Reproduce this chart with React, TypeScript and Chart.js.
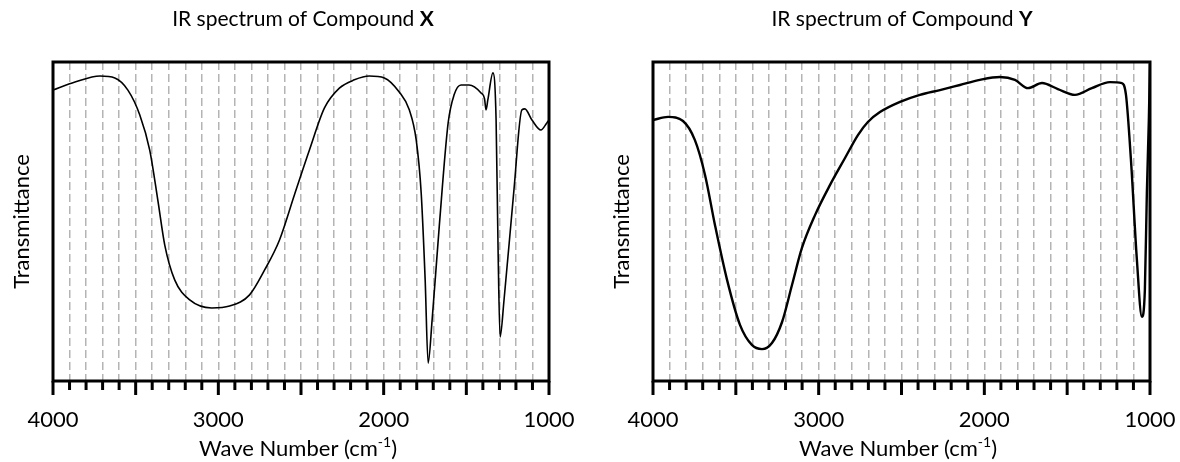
import React, { useEffect, useRef } from "react";
import { Chart, registerables } from "chart.js";

Chart.register(...registerables);

// ---------- data ----------
const waveNumberMin = 1000;
const waveNumberMax = 4000;
const waveNumberStep = 100;
const labelledTicks = [4000, 3000, 2000, 1000];

const compoundXWaveNumbers = [
  4000, 3867, 3716, 3626, 3547, 3475, 3415, 3366, 3324, 3264, 3173, 3040, 2932, 2811, 2720,
  2630, 2540, 2449, 2358, 2268, 2177, 2087, 1996, 1906, 1845, 1803, 1773, 1749, 1731, 1707,
  1664, 1610, 1574, 1532, 1484, 1411, 1390, 1381, 1370, 1339, 1320, 1308, 1296, 1272, 1212,
  1164, 1146, 1103, 1049, 1013, 1000,
];
const compoundXTransmittance = [
  91.2, 93.7, 95.6, 95.0, 91.2, 83.4, 72.4, 56.7, 42.6, 31.7, 25.4, 22.9, 23.5, 27.0, 34.8,
  44.2, 58.3, 72.4, 85.6, 91.8, 94.4, 95.6, 95.0, 90.6, 85.0, 75.5, 58.9, 31.7, 5.6, 19.1,
  48.3, 80.9, 89.7, 92.8, 92.8, 90.3, 88.5, 85.0, 88.1, 96.6, 81.8, 41.1, 13.8, 25.4, 59.9,
  85.0, 85.3, 81.8, 78.7, 80.9, 81.8,
];

const compoundYWaveNumbers = [
  4000, 3909, 3819, 3747, 3686, 3626, 3553, 3475, 3403, 3342, 3282, 3221, 3161, 3101, 3022,
  2932, 2841, 2763, 2703, 2630, 2509, 2389, 2268, 2147, 2027, 1906, 1815, 1737, 1652, 1556,
  1453, 1351, 1242, 1170, 1145, 1115, 1079, 1049, 1031, 1019, 1007, 1000,
];
const compoundYTransmittance = [
  81.8, 82.8, 81.5, 75.5, 64.6, 48.9, 31.7, 17.6, 11.3, 10.0, 11.9, 18.5, 30.1, 41.7, 52.0,
  61.4, 69.9, 77.1, 81.2, 84.3, 87.5, 89.7, 91.2, 92.8, 94.4, 95.3, 94.4, 91.8, 93.4, 91.5,
  89.7, 91.8, 93.7, 93.4, 89.7, 69.3, 37.9, 20.1, 28.5, 58.9, 81.8, 99.4,
];

const titlePrefix = "IR spectrum of Compound ";
const compoundNames = ["X", "Y"];
const xAxisTitleMain = "Wave Number (cm";
const xAxisTitleSup = "-1";
const xAxisTitleEnd = ")";
const yAxisTitle = "Transmittance";

const FONT = "Lato, 'Open Sans', 'Noto Sans', sans-serif";

type PanelCfg = {
  name: string;
  wn: number[];
  tr: number[];
  lineWidth: number;
  padLeft: number;
  padRight: number;
  titleCenter: number;
  axisTitleCenter: number;
};

const panels: PanelCfg[] = [
  {
    name: compoundNames[0],
    wn: compoundXWaveNumbers,
    tr: compoundXTransmittance,
    lineWidth: 1.6,
    padLeft: 53,
    padRight: 41,
    titleCenter: 303,
    axisTitleCenter: 298,
  },
  {
    name: compoundNames[1],
    wn: compoundYWaveNumbers,
    tr: compoundYTransmittance,
    lineWidth: 2.4,
    padLeft: 63,
    padRight: 30,
    titleCenter: 312,
    axisTitleCenter: 308,
  },
];

function makeDecorPlugin(cfg: PanelCfg) {
  return {
    id: "decor" + cfg.name,
    afterDraw(chart: any) {
      const ctx = chart.ctx as CanvasRenderingContext2D;
      const area = chart.chartArea;
      const xs = chart.scales.x;
      ctx.save();
      // tick marks
      ctx.strokeStyle = "#000";
      ctx.lineWidth = 3;
      for (const t of xs.ticks) {
        const px = xs.getPixelForValue(t.value);
        const len = t.value % 500 === 0 ? 14 : 9;
        ctx.beginPath();
        ctx.moveTo(px, area.bottom);
        ctx.lineTo(px, area.bottom + len);
        ctx.stroke();
      }
      // frame
      ctx.strokeRect(area.left, area.top, area.right - area.left, area.bottom - area.top);

      // title
      ctx.fillStyle = "#000";
      ctx.textBaseline = "alphabetic";
      ctx.textAlign = "left";
      const fNorm = `21px ${FONT}`;
      const fBold = `bold 21px ${FONT}`;
      ctx.font = fNorm;
      const w1 = ctx.measureText(titlePrefix).width;
      ctx.font = fBold;
      const w2 = ctx.measureText(cfg.name).width;
      let x0 = cfg.titleCenter - (w1 + w2) / 2;
      ctx.font = fNorm;
      ctx.fillText(titlePrefix, x0, 26);
      ctx.font = fBold;
      ctx.fillText(cfg.name, x0 + w1, 26);

      // x axis title
      const fAx = `22px ${FONT}`;
      const fSup = `14px ${FONT}`;
      ctx.font = fAx;
      const a1 = ctx.measureText(xAxisTitleMain).width;
      const a3 = ctx.measureText(xAxisTitleEnd).width;
      ctx.font = fSup;
      const a2 = ctx.measureText(xAxisTitleSup).width;
      x0 = cfg.axisTitleCenter - (a1 + a2 + a3) / 2;
      const yb = 456;
      ctx.font = fAx;
      ctx.fillText(xAxisTitleMain, x0, yb);
      ctx.font = fSup;
      ctx.fillText(xAxisTitleSup, x0 + a1, yb - 9);
      ctx.font = fAx;
      ctx.fillText(xAxisTitleEnd, x0 + a1 + a2, yb);

      // y axis title
      ctx.save();
      ctx.translate(cfg.padLeft - 31, (area.top + area.bottom) / 2);
      ctx.rotate(-Math.PI / 2);
      ctx.textAlign = "center";
      ctx.textBaseline = "middle";
      ctx.font = `22px ${FONT}`;
      ctx.fillText(yAxisTitle, 0, 0);
      ctx.restore();
      ctx.restore();
    },
  };
}

function Panel({ cfg }: { cfg: PanelCfg }) {
  const ref = useRef<HTMLCanvasElement | null>(null);
  useEffect(() => {
    if (!ref.current) return;
    const data = cfg.wn.map((w, i) => ({ x: w, y: cfg.tr[i] }));
    const chart = new Chart(ref.current, {
      type: "line",
      data: {
        datasets: [
          {
            data,
            borderColor: "#000",
            borderWidth: cfg.lineWidth,
            pointRadius: 0,
            fill: false,
            cubicInterpolationMode: "monotone",
          },
        ],
      },
      options: {
        animation: false,
        responsive: false,
        devicePixelRatio: 1,
        layout: { padding: { left: cfg.padLeft, right: cfg.padRight, top: 62, bottom: 0 } },
        plugins: { legend: { display: false }, title: { display: false }, tooltip: { enabled: false } },
        events: [],
        scales: {
          x: {
            type: "linear",
            reverse: true,
            min: waveNumberMin,
            max: waveNumberMax,
            afterFit: (s: any) => {
              s.height = 81;
              s.paddingLeft = 0;
              s.paddingRight = 0;
            },
            ticks: {
              stepSize: waveNumberStep,
              autoSkip: false,
              maxRotation: 0,
              padding: 26,
              color: "#000",
              font: { family: FONT, size: 22 },
              callback: (v: any) => (labelledTicks.includes(Number(v)) ? String(v) : ""),
            },
            grid: {
              drawTicks: false,
              lineWidth: 1.5,
              color: (c: any) =>
                c.tick && (c.tick.value === waveNumberMin || c.tick.value === waveNumberMax)
                  ? "rgba(0,0,0,0)"
                  : "#b4b4b4",
            },
            border: { display: false, dash: [8, 4] },
          },
          y: { display: false, min: 0, max: 100 },
        },
      },
      plugins: [makeDecorPlugin(cfg)],
    } as any);
    return () => chart.destroy();
  }, [cfg]);
  return <canvas ref={ref} width={590} height={462} style={{ width: 590, height: 462, display: "block" }} />;
}

export default function App() {
  return (
    <div style={{ position: "fixed", left: 0, top: 0, width: 1180, height: 462, display: "flex", background: "#fff" }}>
      {panels.map((p) => (
        <Panel key={p.name} cfg={p} />
      ))}
    </div>
  );
}
